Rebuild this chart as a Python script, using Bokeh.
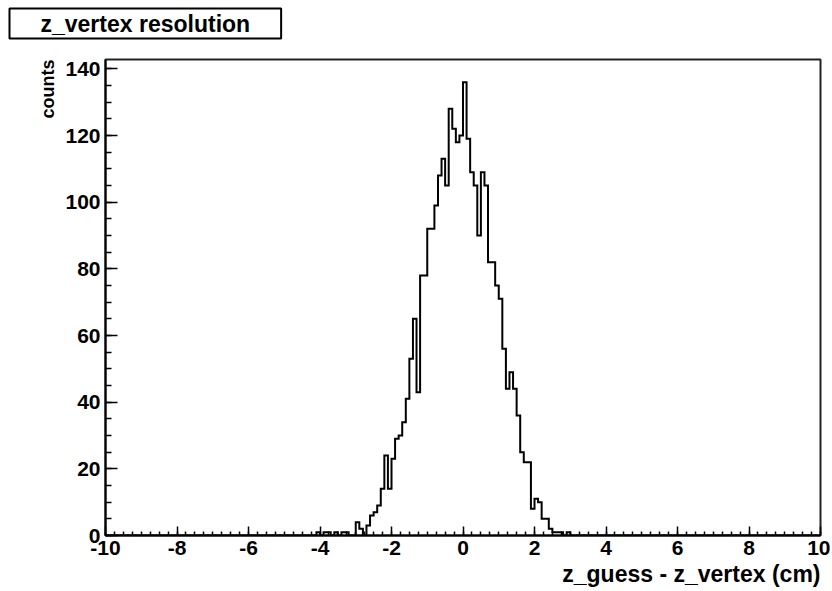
import numpy as np
from bokeh.plotting import figure
from bokeh.models import FixedTicker, Range1d, Title
from bokeh.embed import file_html
from bokeh.resources import INLINE

# ---- data -------------------------------------------------------------
bin_low = -10.0
bin_width = 0.1
n_bins = 200
core_start = -4.2          # first bin of the non-empty region
counts_core = [
    0, 1, 0, 1, 1, 0, 1, 0, 1, 1,            # -4.2 .. -3.3
    0, 0, 4, 2, 0, 3, 6, 7, 9, 14,           # -3.2 .. -2.3
    24, 14, 23, 29, 30, 34, 41, 53, 65, 43,  # -2.2 .. -1.3
    78, 78, 92, 92, 99, 108, 113, 105, 128, 122,  # -1.2 .. -0.3
    118, 120, 136, 119, 109, 105, 90, 109, 105, 82,  # -0.2 .. 0.7
    82, 75, 71, 56, 44, 49, 44, 36, 25, 22,  # 0.8 .. 1.7
    22, 8, 11, 10, 5, 5, 2, 1, 1, 1,         # 1.8 .. 2.7
    0, 1,                                    # 2.8 .. 2.9
]
x_ticks = [-10, -8, -6, -4, -2, 0, 2, 4, 6, 8, 10]
y_ticks = [0, 20, 40, 60, 80, 100, 120, 140]
title_text = "z_vertex resolution"
x_title = "z_guess - z_vertex (cm)"
y_title = "counts"

# ---- build histogram outline -----------------------------------------
offset = int(round((core_start - bin_low) / bin_width))
counts = [0] * offset + counts_core + [0] * (n_bins - offset - len(counts_core))
edges = bin_low + bin_width * np.arange(n_bins + 1)
xs = np.repeat(edges, 2)[1:-1]
ys = np.repeat(np.array(counts, dtype=float), 2)

X0, X1 = -10.0, 10.0
Y0, Y1 = 0.0, 142.8

W, H = 830, 589
FL, FR, FT, FB = 105, 820, 59, 535   # frame in page pixels

FONT = "Liberation Sans"

p = figure(width=W, height=H, x_range=Range1d(X0, X1), y_range=Range1d(Y0, Y1),
           output_backend="svg", toolbar_location=None,
           min_border_left=FL, min_border_right=W - FR,
           min_border_top=FT, min_border_bottom=H - FB)
p.background_fill_color = "white"
p.border_fill_color = "white"
p.xgrid.visible = False
p.ygrid.visible = False
p.outline_line_color = "#222222"
p.outline_line_width = 2
p.title.visible = False

# spacer between frame and title box, then the boxed title (ROOT pave)
p.add_layout(Title(text=" ", text_font_size="1px", standoff=18), "above")
p.add_layout(Title(text=title_text, align="left", offset=-96,
                   vertical_align="bottom", standoff=0,
                   text_font=FONT, text_font_style="bold",
                   text_font_size="23px", text_color="black",
                   background_fill_color="white", border_line_color="black",
                   border_line_width=2, padding=(31, 2)), "above")

for ax in (p.xaxis[0], p.yaxis[0]):
    ax.axis_line_color = "black"
    ax.axis_line_width = 2
    ax.major_tick_out = 0
    ax.minor_tick_out = 0
    ax.major_tick_line_color = "black"
    ax.minor_tick_line_color = "black"
    ax.major_tick_line_width = 1.5
    ax.minor_tick_line_width = 1.5
    ax.major_label_text_font = FONT
    ax.major_label_text_font_style = "bold"
    ax.major_label_text_font_size = "21px"
    ax.major_label_text_color = "black"

p.xaxis.ticker = FixedTicker(ticks=x_ticks,
                             minor_ticks=list(np.arange(-10, 10.001, 0.25)))
p.yaxis.ticker = FixedTicker(ticks=y_ticks,
                             minor_ticks=list(range(0, 145, 5)))
p.xaxis.major_label_overrides = {t: str(t) for t in x_ticks}
p.yaxis.major_label_overrides = {t: str(t) for t in y_ticks}
p.xaxis.major_tick_in = 9
p.xaxis.minor_tick_in = 4
p.yaxis.major_tick_in = 12
p.yaxis.minor_tick_in = 6
p.xaxis.major_label_standoff = 5
p.yaxis.major_label_standoff = 5

p.line(xs, ys, line_color="black", line_width=2, line_join="miter")

# axis titles (ROOT style: at the far end of each axis)
p.add_layout(Title(text=x_title, align="right", text_font=FONT,
                   text_font_style="bold", text_font_size="23px",
                   text_color="black", standoff=3), "below")
p.add_layout(Title(text=y_title, align="right", text_font=FONT,
                   text_font_style="bold", text_font_size="18px",
                   text_color="black", standoff=10), "left")

open("out.html", "w").write(file_html(p, INLINE))
